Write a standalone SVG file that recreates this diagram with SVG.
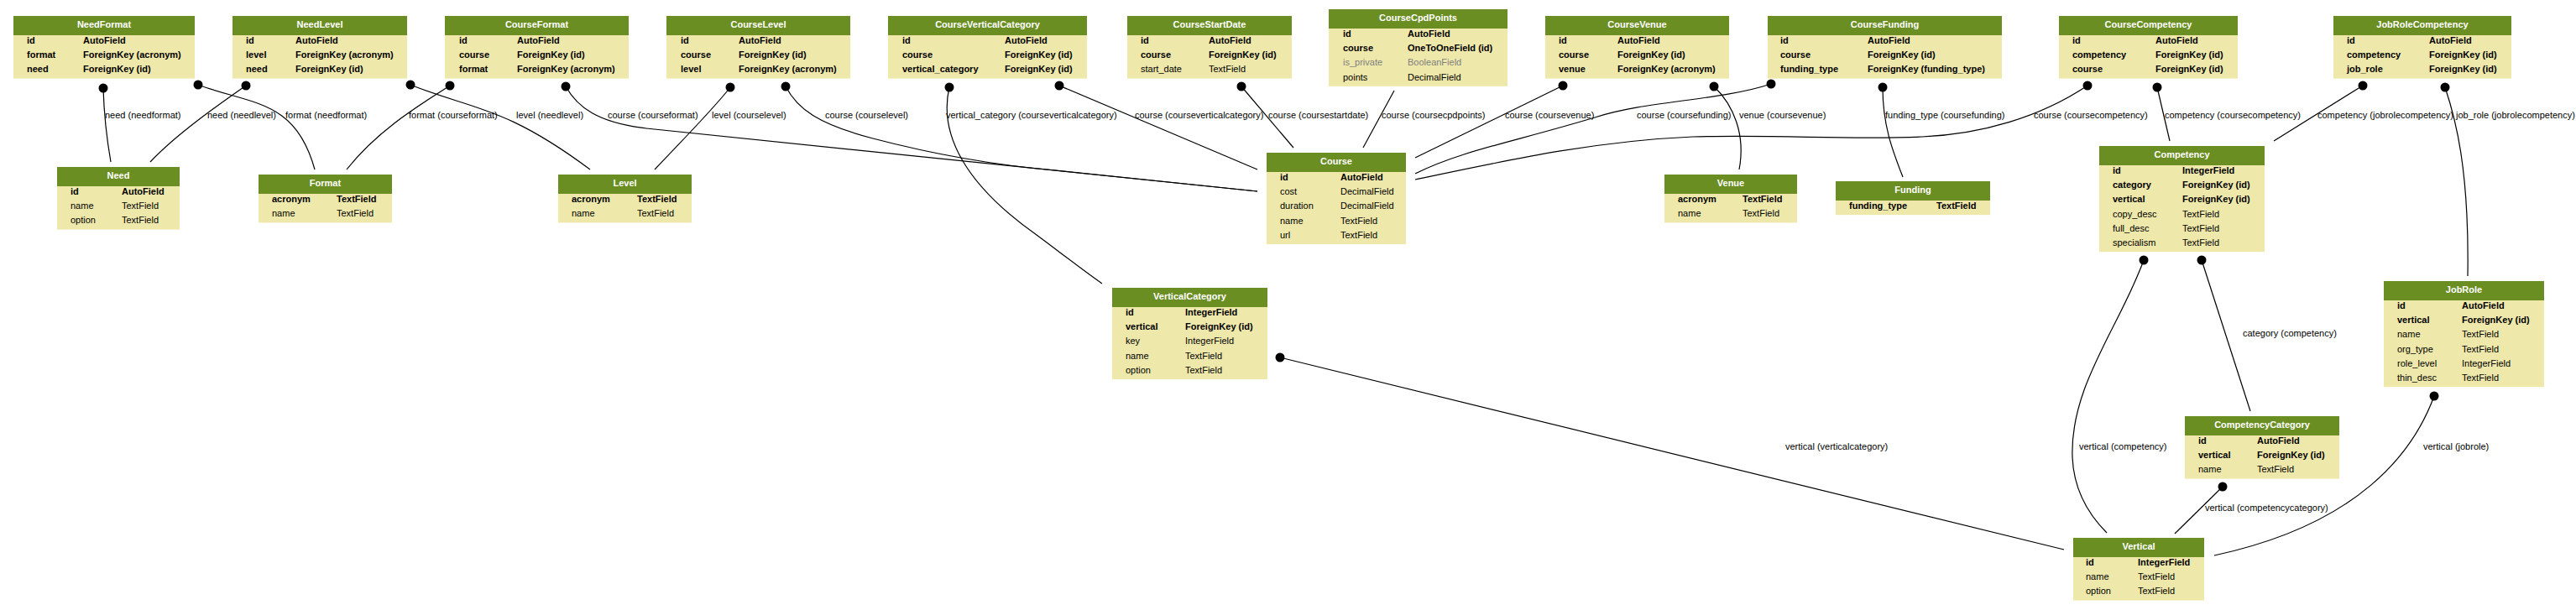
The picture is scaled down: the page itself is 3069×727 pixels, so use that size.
<svg xmlns="http://www.w3.org/2000/svg" width="3069" height="727" viewBox="0 0 3069 727">
<style>
text{font-family:"Liberation Sans",Arial,sans-serif;font-size:11px;fill:#000}
.hd{fill:#6b8e23}
.bd{fill:#eee8aa}
.t{fill:#fff;font-weight:bold;text-anchor:middle}
.b{font-weight:bold}
.g{fill:#808080}
.e{fill:none;stroke:#000;stroke-width:1.2}
.m{marker-start:url(#dot)}
</style>
<defs>
<marker id="dot" markerWidth="12" markerHeight="12" refX="6" refY="6" markerUnits="userSpaceOnUse"><circle cx="6" cy="6" r="5.5" fill="#000"/></marker>
</defs>
<rect width="3069" height="727" fill="#fff"/>

<g id="connectors">
<path class="e m" d="M123,105 C124,140 128,170 132,193"/>
<path class="e m" d="M236,101 C300,125 352,118 375,202"/>
<path class="e m" d="M293,102 C260,125 210,160 179,193"/>
<path class="e m" d="M489,101 C560,130 600,125 703,202"/>
<path class="e m" d="M536,102 C500,125 450,155 413,202"/>
<path class="e m" d="M674,103 C688,128 712,146 770,153 L1498,228"/>
<path class="e m" d="M870,104 C850,130 810,170 780,202"/>
<path class="e m" d="M936,103 C950,130 975,148 1040,165 C1120,186 1200,198 1257,203 L1498,228"/>
<path class="e m" d="M1131,104 C1118,160 1150,220 1235,280 C1262,300 1290,322 1313,338"/>
<path class="e m" d="M1262,102 L1498,202"/>
<path class="e m" d="M1479,103 L1541,176"/>
<path class="e" d="M1661,108 L1624,176"/>
<path class="e m" d="M1862,102 L1686,188"/>
<path class="e m" d="M2042,103 C2065,125 2080,160 2072,202"/>
<path class="e m" d="M2110,100 C2050,120 1960,120 1900,140 C1800,170 1740,180 1686,207"/>
<path class="e m" d="M2243,104 C2243,150 2255,180 2267,211"/>
<path class="e m" d="M2487,102 C2430,140 2360,160 2290,163 C2200,167 2120,160 2017,163 C1900,168 1800,190 1686,214"/>
<path class="e m" d="M2570,104 L2585,168"/>
<path class="e m" d="M2815,102 L2709,168"/>
<path class="e m" d="M2913,104 C2925,140 2942,200 2940,329"/>
<path class="e m" d="M2623,310 L2681,490"/>
<path class="e m" d="M2554,310 C2525,390 2466,460 2469,545 C2471,590 2495,620 2510,635"/>
<path class="e m" d="M1525,426 L2459,655"/>
<path class="e m" d="M2648,580 L2591,636"/>
<path class="e m" d="M2900,472 C2875,540 2810,625 2638,662"/>
<text x="125" y="141">need (needformat)</text>
<text x="247" y="141">need (needlevel)</text>
<text x="340" y="141">format (needformat)</text>
<text x="487" y="141">format (courseformat)</text>
<text x="615" y="141">level (needlevel)</text>
<text x="724" y="141">course (courseformat)</text>
<text x="848" y="141">level (courselevel)</text>
<text x="983" y="141">course (courselevel)</text>
<text x="1127" y="141">vertical_category (courseverticalcategory)</text>
<text x="1352" y="141">course (courseverticalcategory)</text>
<text x="1511" y="141">course (coursestartdate)</text>
<text x="1646" y="141">course (coursecpdpoints)</text>
<text x="1793" y="141">course (coursevenue)</text>
<text x="1950" y="141">course (coursefunding)</text>
<text x="2072" y="141">venue (coursevenue)</text>
<text x="2246" y="141">funding_type (coursefunding)</text>
<text x="2423" y="141">course (coursecompetency)</text>
<text x="2579" y="141">competency (coursecompetency)</text>
<text x="2761" y="141">competency (jobrolecompetency)</text>
<text x="2926" y="141">job_role (jobrolecompetency)</text>
<text x="2672" y="401">category (competency)</text>
<text x="2127" y="536">vertical (verticalcategory)</text>
<text x="2477" y="536">vertical (competency)</text>
<text x="2887" y="536">vertical (jobrole)</text>
<text x="2627" y="609">vertical (competencycategory)</text>
</g>

<g id="NeedFormat">
<rect class="hd" x="16" y="19" width="216" height="23"/><rect class="bd" x="16" y="42" width="216" height="51.6"/>
<text class="t" x="124" y="32.5">NeedFormat</text>
<text class="b" x="32" y="52">id</text><text class="b" x="99" y="52">AutoField</text>
<text class="b" x="32" y="69.2">format</text><text class="b" x="99" y="69.2">ForeignKey (acronym)</text>
<text class="b" x="32" y="86.4">need</text><text class="b" x="99" y="86.4">ForeignKey (id)</text>
</g>
<g id="NeedLevel">
<rect class="hd" x="277" y="19" width="208" height="23"/><rect class="bd" x="277" y="42" width="208" height="51.6"/>
<text class="t" x="381" y="32.5">NeedLevel</text>
<text class="b" x="293" y="52">id</text><text class="b" x="352" y="52">AutoField</text>
<text class="b" x="293" y="69.2">level</text><text class="b" x="352" y="69.2">ForeignKey (acronym)</text>
<text class="b" x="293" y="86.4">need</text><text class="b" x="352" y="86.4">ForeignKey (id)</text>
</g>
<g id="CourseFormat">
<rect class="hd" x="530" y="19" width="219" height="23"/><rect class="bd" x="530" y="42" width="219" height="51.6"/>
<text class="t" x="639.5" y="32.5">CourseFormat</text>
<text class="b" x="547" y="52">id</text><text class="b" x="616" y="52">AutoField</text>
<text class="b" x="547" y="69.2">course</text><text class="b" x="616" y="69.2">ForeignKey (id)</text>
<text class="b" x="547" y="86.4">format</text><text class="b" x="616" y="86.4">ForeignKey (acronym)</text>
</g>
<g id="CourseLevel">
<rect class="hd" x="794" y="19" width="219" height="23"/><rect class="bd" x="794" y="42" width="219" height="51.6"/>
<text class="t" x="903.5" y="32.5">CourseLevel</text>
<text class="b" x="811" y="52">id</text><text class="b" x="880" y="52">AutoField</text>
<text class="b" x="811" y="69.2">course</text><text class="b" x="880" y="69.2">ForeignKey (id)</text>
<text class="b" x="811" y="86.4">level</text><text class="b" x="880" y="86.4">ForeignKey (acronym)</text>
</g>
<g id="CourseVerticalCategory">
<rect class="hd" x="1058" y="19" width="237" height="23"/><rect class="bd" x="1058" y="42" width="237" height="51.6"/>
<text class="t" x="1176.5" y="32.5">CourseVerticalCategory</text>
<text class="b" x="1075" y="52">id</text><text class="b" x="1197" y="52">AutoField</text>
<text class="b" x="1075" y="69.2">course</text><text class="b" x="1197" y="69.2">ForeignKey (id)</text>
<text class="b" x="1075" y="86.4">vertical_category</text><text class="b" x="1197" y="86.4">ForeignKey (id)</text>
</g>
<g id="CourseStartDate">
<rect class="hd" x="1343" y="19" width="196" height="23"/><rect class="bd" x="1343" y="42" width="196" height="51.6"/>
<text class="t" x="1441" y="32.5">CourseStartDate</text>
<text class="b" x="1359" y="52">id</text><text class="b" x="1440" y="52">AutoField</text>
<text class="b" x="1359" y="69.2">course</text><text class="b" x="1440" y="69.2">ForeignKey (id)</text>
<text x="1359" y="86.4">start_date</text><text x="1440" y="86.4">TextField</text>
</g>
<g id="CourseCpdPoints">
<rect class="hd" x="1583" y="11" width="213" height="23"/><rect class="bd" x="1583" y="34" width="213" height="68.8"/>
<text class="t" x="1689.5" y="24.5">CourseCpdPoints</text>
<text class="b" x="1600" y="44">id</text><text class="b" x="1677" y="44">AutoField</text>
<text class="b" x="1600" y="61.2">course</text><text class="b" x="1677" y="61.2">OneToOneField (id)</text>
<text class="g" x="1600" y="78.4">is_private</text><text class="g" x="1677" y="78.4">BooleanField</text>
<text x="1600" y="95.6">points</text><text x="1677" y="95.6">DecimalField</text>
</g>
<g id="CourseVenue">
<rect class="hd" x="1841" y="19" width="219" height="23"/><rect class="bd" x="1841" y="42" width="219" height="51.6"/>
<text class="t" x="1950.5" y="32.5">CourseVenue</text>
<text class="b" x="1857" y="52">id</text><text class="b" x="1927" y="52">AutoField</text>
<text class="b" x="1857" y="69.2">course</text><text class="b" x="1927" y="69.2">ForeignKey (id)</text>
<text class="b" x="1857" y="86.4">venue</text><text class="b" x="1927" y="86.4">ForeignKey (acronym)</text>
</g>
<g id="CourseFunding">
<rect class="hd" x="2106" y="19" width="279" height="23"/><rect class="bd" x="2106" y="42" width="279" height="51.6"/>
<text class="t" x="2245.5" y="32.5">CourseFunding</text>
<text class="b" x="2121" y="52">id</text><text class="b" x="2225" y="52">AutoField</text>
<text class="b" x="2121" y="69.2">course</text><text class="b" x="2225" y="69.2">ForeignKey (id)</text>
<text class="b" x="2121" y="86.4">funding_type</text><text class="b" x="2225" y="86.4">ForeignKey (funding_type)</text>
</g>
<g id="CourseCompetency">
<rect class="hd" x="2453" y="19" width="213" height="23"/><rect class="bd" x="2453" y="42" width="213" height="51.6"/>
<text class="t" x="2559.5" y="32.5">CourseCompetency</text>
<text class="b" x="2469" y="52">id</text><text class="b" x="2568" y="52">AutoField</text>
<text class="b" x="2469" y="69.2">competency</text><text class="b" x="2568" y="69.2">ForeignKey (id)</text>
<text class="b" x="2469" y="86.4">course</text><text class="b" x="2568" y="86.4">ForeignKey (id)</text>
</g>
<g id="JobRoleCompetency">
<rect class="hd" x="2780" y="19" width="212" height="23"/><rect class="bd" x="2780" y="42" width="212" height="51.6"/>
<text class="t" x="2886" y="32.5">JobRoleCompetency</text>
<text class="b" x="2796" y="52">id</text><text class="b" x="2894" y="52">AutoField</text>
<text class="b" x="2796" y="69.2">competency</text><text class="b" x="2894" y="69.2">ForeignKey (id)</text>
<text class="b" x="2796" y="86.4">job_role</text><text class="b" x="2894" y="86.4">ForeignKey (id)</text>
</g>
<g id="Need">
<rect class="hd" x="68" y="199" width="146" height="23"/><rect class="bd" x="68" y="222" width="146" height="51.6"/>
<text class="t" x="141" y="212.5">Need</text>
<text class="b" x="84" y="232">id</text><text class="b" x="145" y="232">AutoField</text>
<text x="84" y="249.2">name</text><text x="145" y="249.2">TextField</text>
<text x="84" y="266.4">option</text><text x="145" y="266.4">TextField</text>
</g>
<g id="Format">
<rect class="hd" x="308" y="208" width="159" height="23"/><rect class="bd" x="308" y="231" width="159" height="34.4"/>
<text class="t" x="387.5" y="221.5">Format</text>
<text class="b" x="324" y="241">acronym</text><text class="b" x="401" y="241">TextField</text>
<text x="324" y="258.2">name</text><text x="401" y="258.2">TextField</text>
</g>
<g id="Level">
<rect class="hd" x="665" y="208" width="159" height="23"/><rect class="bd" x="665" y="231" width="159" height="34.4"/>
<text class="t" x="744.5" y="221.5">Level</text>
<text class="b" x="681" y="241">acronym</text><text class="b" x="759" y="241">TextField</text>
<text x="681" y="258.2">name</text><text x="759" y="258.2">TextField</text>
</g>
<g id="Course">
<rect class="hd" x="1509" y="182" width="166" height="23"/><rect class="bd" x="1509" y="205" width="166" height="86"/>
<text class="t" x="1592" y="195.5">Course</text>
<text class="b" x="1525" y="215">id</text><text class="b" x="1597" y="215">AutoField</text>
<text x="1525" y="232.2">cost</text><text x="1597" y="232.2">DecimalField</text>
<text x="1525" y="249.4">duration</text><text x="1597" y="249.4">DecimalField</text>
<text x="1525" y="266.6">name</text><text x="1597" y="266.6">TextField</text>
<text x="1525" y="283.8">url</text><text x="1597" y="283.8">TextField</text>
</g>
<g id="Venue">
<rect class="hd" x="1983" y="208" width="158" height="23"/><rect class="bd" x="1983" y="231" width="158" height="34.4"/>
<text class="t" x="2062" y="221.5">Venue</text>
<text class="b" x="1999" y="241">acronym</text><text class="b" x="2076" y="241">TextField</text>
<text x="1999" y="258.2">name</text><text x="2076" y="258.2">TextField</text>
</g>
<g id="Funding">
<rect class="hd" x="2187" y="216" width="184" height="23"/><rect class="bd" x="2187" y="239" width="184" height="17.2"/>
<text class="t" x="2279" y="229.5">Funding</text>
<text class="b" x="2203" y="249">funding_type</text><text class="b" x="2307" y="249">TextField</text>
</g>
<g id="Competency">
<rect class="hd" x="2501" y="174" width="197" height="23"/><rect class="bd" x="2501" y="197" width="197" height="103.2"/>
<text class="t" x="2599.5" y="187.5">Competency</text>
<text class="b" x="2517" y="207">id</text><text class="b" x="2600" y="207">IntegerField</text>
<text class="b" x="2517" y="224.2">category</text><text class="b" x="2600" y="224.2">ForeignKey (id)</text>
<text class="b" x="2517" y="241.4">vertical</text><text class="b" x="2600" y="241.4">ForeignKey (id)</text>
<text x="2517" y="258.6">copy_desc</text><text x="2600" y="258.6">TextField</text>
<text x="2517" y="275.8">full_desc</text><text x="2600" y="275.8">TextField</text>
<text x="2517" y="293">specialism</text><text x="2600" y="293">TextField</text>
</g>
<g id="JobRole">
<rect class="hd" x="2840" y="335" width="191" height="23"/><rect class="bd" x="2840" y="358" width="191" height="103.2"/>
<text class="t" x="2935.5" y="348.5">JobRole</text>
<text class="b" x="2856" y="368">id</text><text class="b" x="2933" y="368">AutoField</text>
<text class="b" x="2856" y="385.2">vertical</text><text class="b" x="2933" y="385.2">ForeignKey (id)</text>
<text x="2856" y="402.4">name</text><text x="2933" y="402.4">TextField</text>
<text x="2856" y="419.6">org_type</text><text x="2933" y="419.6">TextField</text>
<text x="2856" y="436.8">role_level</text><text x="2933" y="436.8">IntegerField</text>
<text x="2856" y="454">thin_desc</text><text x="2933" y="454">TextField</text>
</g>
<g id="VerticalCategory">
<rect class="hd" x="1325" y="343" width="185" height="23"/><rect class="bd" x="1325" y="366" width="185" height="86"/>
<text class="t" x="1417.5" y="356.5">VerticalCategory</text>
<text class="b" x="1341" y="376">id</text><text class="b" x="1412" y="376">IntegerField</text>
<text class="b" x="1341" y="393.2">vertical</text><text class="b" x="1412" y="393.2">ForeignKey (id)</text>
<text x="1341" y="410.4">key</text><text x="1412" y="410.4">IntegerField</text>
<text x="1341" y="427.6">name</text><text x="1412" y="427.6">TextField</text>
<text x="1341" y="444.8">option</text><text x="1412" y="444.8">TextField</text>
</g>
<g id="CompetencyCategory">
<rect class="hd" x="2603" y="496" width="184" height="23"/><rect class="bd" x="2603" y="519" width="184" height="51.6"/>
<text class="t" x="2695" y="509.5">CompetencyCategory</text>
<text class="b" x="2619" y="529">id</text><text class="b" x="2689" y="529">AutoField</text>
<text class="b" x="2619" y="546.2">vertical</text><text class="b" x="2689" y="546.2">ForeignKey (id)</text>
<text x="2619" y="563.4">name</text><text x="2689" y="563.4">TextField</text>
</g>
<g id="Vertical">
<rect class="hd" x="2470" y="641" width="156" height="23"/><rect class="bd" x="2470" y="664" width="156" height="51.6"/>
<text class="t" x="2548" y="654.5">Vertical</text>
<text class="b" x="2485" y="674">id</text><text class="b" x="2547" y="674">IntegerField</text>
<text x="2485" y="691.2">name</text><text x="2547" y="691.2">TextField</text>
<text x="2485" y="708.4">option</text><text x="2547" y="708.4">TextField</text>
</g>
</svg>
